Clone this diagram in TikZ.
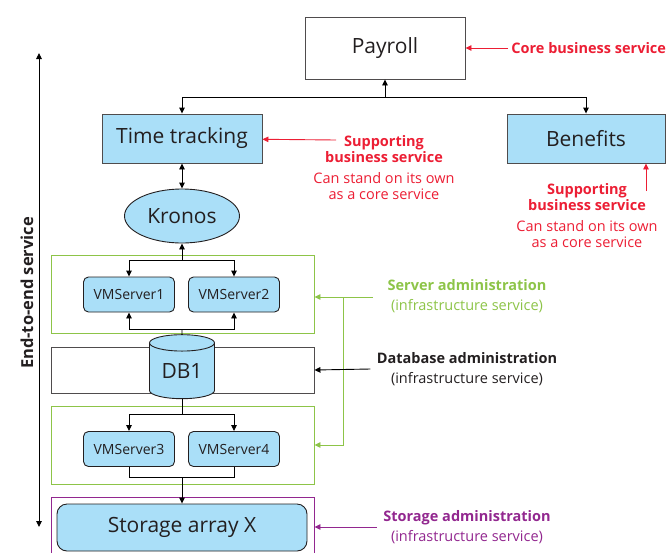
\documentclass[tikz,border=0pt]{standalone}
\usepackage{fontspec}
\setmainfont{Open Sans}
\usetikzlibrary{shapes.geometric, arrows.meta}
\definecolor{svcblue}{RGB}{170,223,248}
\definecolor{svcred}{RGB}{236,30,52}
\definecolor{srvgreen}{RGB}{141,196,72}
\definecolor{stgpurple}{RGB}{146,39,143}
\definecolor{ink}{RGB}{35,31,32}

\begin{document}
\begin{tikzpicture}[x=1pt, y=-1pt, line width=0.9pt, text=ink,
    >={Triangle[length=6pt, width=5.5pt]},
    svc/.style={draw=ink!80, fill=svcblue, minimum height=49pt, font=\fontsize{21}{24}\selectfont},
    vm/.style={draw=ink, fill=svcblue, rounded corners=5pt, minimum width=91pt, minimum height=35pt, font=\fontsize{14}{16}\selectfont},
    tier/.style={draw, minimum width=263pt, inner sep=0pt},
    head/.style={align=center, inner sep=0pt, font=\fontsize{14.5}{16}\bfseries},
    sub/.style={align=center, inner sep=0pt, font=\fontsize{14.5}{16}\selectfont},
    infra/.style={align=center, inner sep=0pt, font=\fontsize{14.5}{20.5}\selectfont}]
  \useasboundingbox (0,0) rectangle (666,552);
  % business services
  \node[draw=ink!80, minimum width=160pt, minimum height=62pt, font=\fontsize{21}{24}\selectfont] (payroll) at (385,48) {Payroll};
  \node[svc, minimum width=160pt] (time) at (182,138.5) {Time tracking};
  \node[svc, minimum width=158pt] (benefits) at (586,138.5) {Benefits};
  \node[ellipse, draw=ink, fill=svcblue, minimum width=115pt, minimum height=54pt, inner sep=0pt,
    font=\fontsize{21}{24}\selectfont] (kronos) at (182,216) {Kronos};
  % infrastructure tiers
  \node[tier, draw=srvgreen, minimum height=78pt] (servers1) at (182.5,294) {};
  \node[tier, draw=ink!80, minimum height=46pt] (dbtier) at (182.5,370) {};
  \node[tier, draw=srvgreen, minimum height=78pt] (servers2) at (182.5,445) {};
  \node[tier, draw=stgpurple, minimum height=60pt] (stgtier) at (182.5,527) {};
  \foreach \i/\x/\y in {1/129/294.5, 2/234/294.5, 3/129/449, 4/234/449}
    \node[vm] (vm\i) at (\x,\y) {VMServer\i};
  \node[cylinder, shape border rotate=90, aspect=0.4, draw=ink, fill=svcblue, minimum width=65pt,
    minimum height=64pt, inner sep=0pt, font=\fontsize{21}{24}\selectfont] (db1) at (182,371) {DB1};
  \node[draw=ink, fill=svcblue, rounded corners=10pt, minimum width=250pt, minimum height=47pt,
    font=\fontsize{21}{24}\selectfont] (storage) at (182,527.5) {Storage array X};
  % connectors
  \coordinate (hub) at (385,97);
  \draw[->] (hub) -- (payroll);
  \draw[->] (hub) -| (time.north);
  \draw[->] (hub) -| (benefits.north);
  \draw[<->] (time) -- (kronos);
  \coordinate (k1) at (182,260);
  \draw[->] (k1) -- (kronos);
  \draw[->] (k1) -| (vm1.north);
  \draw[->] (k1) -| (vm2.north);
  \coordinate (k2) at (182,329);
  \draw[->] (k2) -| (vm1.south);
  \draw[->] (k2) -| (vm2.south);
  \draw (k2) -- (db1.north);
  \coordinate (k3) at (182,414);
  \draw (db1.south) -- (k3);
  \draw[->] (k3) -| (vm3.north);
  \draw[->] (k3) -| (vm4.north);
  \coordinate (k4) at (182,477);
  \draw (vm3.south) |- (k4);
  \draw (vm4.south) |- (k4);
  \draw[->] (k4) -- (storage);
  % end-to-end axis
  \coordinate (e2etop) at (39,53);
  \coordinate (e2ebot) at (39,527);
  \draw[<->] (e2ebot) -- (e2etop);
  \node[rotate=90, font=\fontsize{16.5}{18}\bfseries] (e2e) at (27,293) {End-to-end service};
  % annotations
  \node[head, text=svcred, anchor=west] (core) at (511,48) {Core business service};
  \draw[->, svcred] ([xshift=-3pt]core.west) -- (payroll);
  \node[head, text=svcred] (supp1) at (384,149) {Supporting\\business service};
  \node[sub, text=svcred] (can1) at (384,186) {Can stand on its own\\as a core service};
  \coordinate (tt) at (336,140);
  \draw[->, svcred] (tt) -- (time);
  \node[head, text=svcred] (supp2) at (587,197) {Supporting\\business service};
  \node[sub, text=svcred] (can2) at (587,234) {Can stand on its own\\as a core service};
  \coordinate (bt) at (646,191);
  \draw[->, svcred] (bt) -- (bt |- benefits.south);
  \node[infra, text=srvgreen] (srvnote) at (467,296) {\textbf{Server administration}\\(infrastructure service)};
  \coordinate (srvjoin) at (343,297);
  \draw[->, srvgreen] (373,297) -- (servers1.east |- srvjoin);
  \draw[->, srvgreen] (srvjoin) |- (servers2.east);
  \node[infra] (dbnote) at (467,369) {\textbf{Database administration}\\(infrastructure service)};
  \draw[->] ([xshift=-6pt]dbnote.west) -- (dbtier.east);
  \node[infra, text=stgpurple] (stgnote) at (467,527) {\textbf{Storage administration}\\(infrastructure service)};
  \draw[->, stgpurple] ([xshift=-6pt]stgnote.west) -- (stgtier.east |- stgnote.west);
\end{tikzpicture}
\end{document}
